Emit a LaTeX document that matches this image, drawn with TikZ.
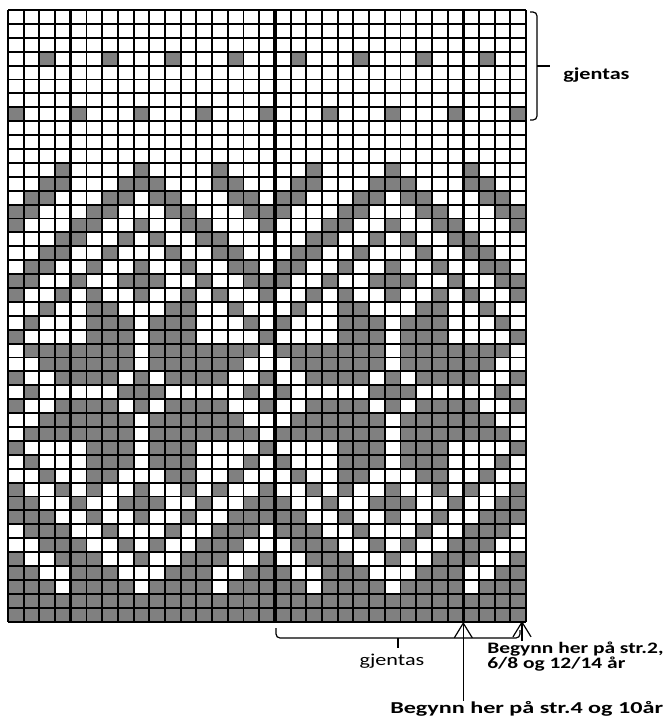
\documentclass[tikz,border=0pt]{standalone}
\usepackage{fontspec}
\setmainfont{Carlito}
\usetikzlibrary{arrows.meta,positioning}
\definecolor{stitchgray}{RGB}{128,128,128}
\newcommand\widetxt[2][1.33]{\scalebox{#1}[1]{#2}}

\begin{document}
\begin{tikzpicture}[
  x=0.75pt,y=-0.75pt,
  every node/.style={font=\fontsize{12.5}{12.5}\selectfont,inner sep=0pt},
  stitch/.style={fill=stitchgray},
  gridline/.style={line width=1.4pt},
  heavyline/.style={line width=2.4pt},
  brace/.style={line width=0.9pt,rounded corners=3pt},
  startarrow/.style={line width=0.9pt,-{Straight Barb[length=11pt,width=13.5pt]}},
  boldlabel/.style={font=\fontsize{12.5}{12.5}\selectfont\bfseries,anchor=base west},
  smalllabel/.style={font=\fontsize{12}{12}\selectfont\bfseries,anchor=base west},
]
  \useasboundingbox (0,0) rectangle (663,721);
  % gray stitches: motif positions 1..9, mirrored and repeated every 16 stitches
  \foreach \r/\ms in {4/{3,7}, 8/{1,5,9}, 12/{4,9}, 13/{3,4,8,9}, 14/{2,3,7,8},
      15/{1,2,6,7}, 16/{1,5,6,9}, 17/{4,5,8}, 18/{3,4,7}, 19/{2,3,6,9},
      20/{1,2,5,8,9}, 21/{1,4,6,9}, 22/{3,6,7}, 23/{2,6,7,8}, 24/{1,6,7,8},
      25/{2,3,4,5,6,7,8}, 26/{3,4,5,6,7,8}, 27/{1,4,5,6,7,9}, 28/{2,8,9},
      29/{1,4,5,6,7,9}, 30/{3,4,5,6,7,8}, 31/{2,3,4,5,6,7,8}, 32/{1,6,7,8},
      33/{2,6,7,8}, 34/{3,6,7}, 35/{1,4,6,9}, 36/{1,2,5,8,9}, 37/{1,2,3,6,9},
      38/{2,3,4,7}, 39/{3,4,5,8}, 40/{1,4,5,6,9}, 41/{1,2,5,6,7},
      42/{1,2,3,5,6,7,8}, 43/{1,...,9}, 44/{1,...,9}}
    \foreach \m in \ms
      \foreach \c in {\m,\m+16,18-\m,34-\m}
        \fill[stitch] ({8+(\c-1)*15.7},{10+(\r-1)*13.9}) rectangle +(15.7,13.9);
  % grid
  \foreach \c in {0,...,33}
    \draw[gridline] ({8+\c*15.7},10) -- ({8+\c*15.7},621.6);
  \foreach \r in {0,...,44}
    \draw[gridline] (8,{10+\r*13.9}) -- (526.1,{10+\r*13.9});
  \foreach \c in {4,17,29}
    \draw[heavyline] ({8+\c*15.7},10) -- ({8+\c*15.7},621.6);

  % repeat brackets
  \node[boldlabel] (reptop) at (563,79) {\widetxt{gjentas}};
  \coordinate (reptoptip) at (550,66);
  \draw[brace] (530,12) -- (537,12) -- (537,120) -- (530,120);
  \draw[brace] (537,66) -- (reptoptip);
  \node[anchor=base] (repbottom) at (392,665) {\widetxt{gjentas}};
  \coordinate (repbottomtip) at (398,648);
  \draw[brace] (276,628) -- (276,638) -- (520,638) -- (520,630);
  \draw[brace] (398,638) -- (repbottomtip);

  % start points
  \node[smalllabel] (start2a) at (487,653) {\widetxt[1.34]{Begynn her på str.2,}};
  \node[smalllabel] (start2b) at ([yshift=-11.25pt]start2a.base west) {\widetxt[1.34]{6/8 og 12/14 år}};
  \node[boldlabel] (start4) at (390,713) {\widetxt[1.45]{Begynn her på str.4 og 10år}};
  \coordinate (begin2) at (522,621);
  \coordinate (begin4) at (463.3,622);
  \draw[startarrow] (start2a.north -| begin2) -- (begin2);
  \draw[startarrow] (start4.north -| begin4) -- (begin4);
\end{tikzpicture}
\end{document}
